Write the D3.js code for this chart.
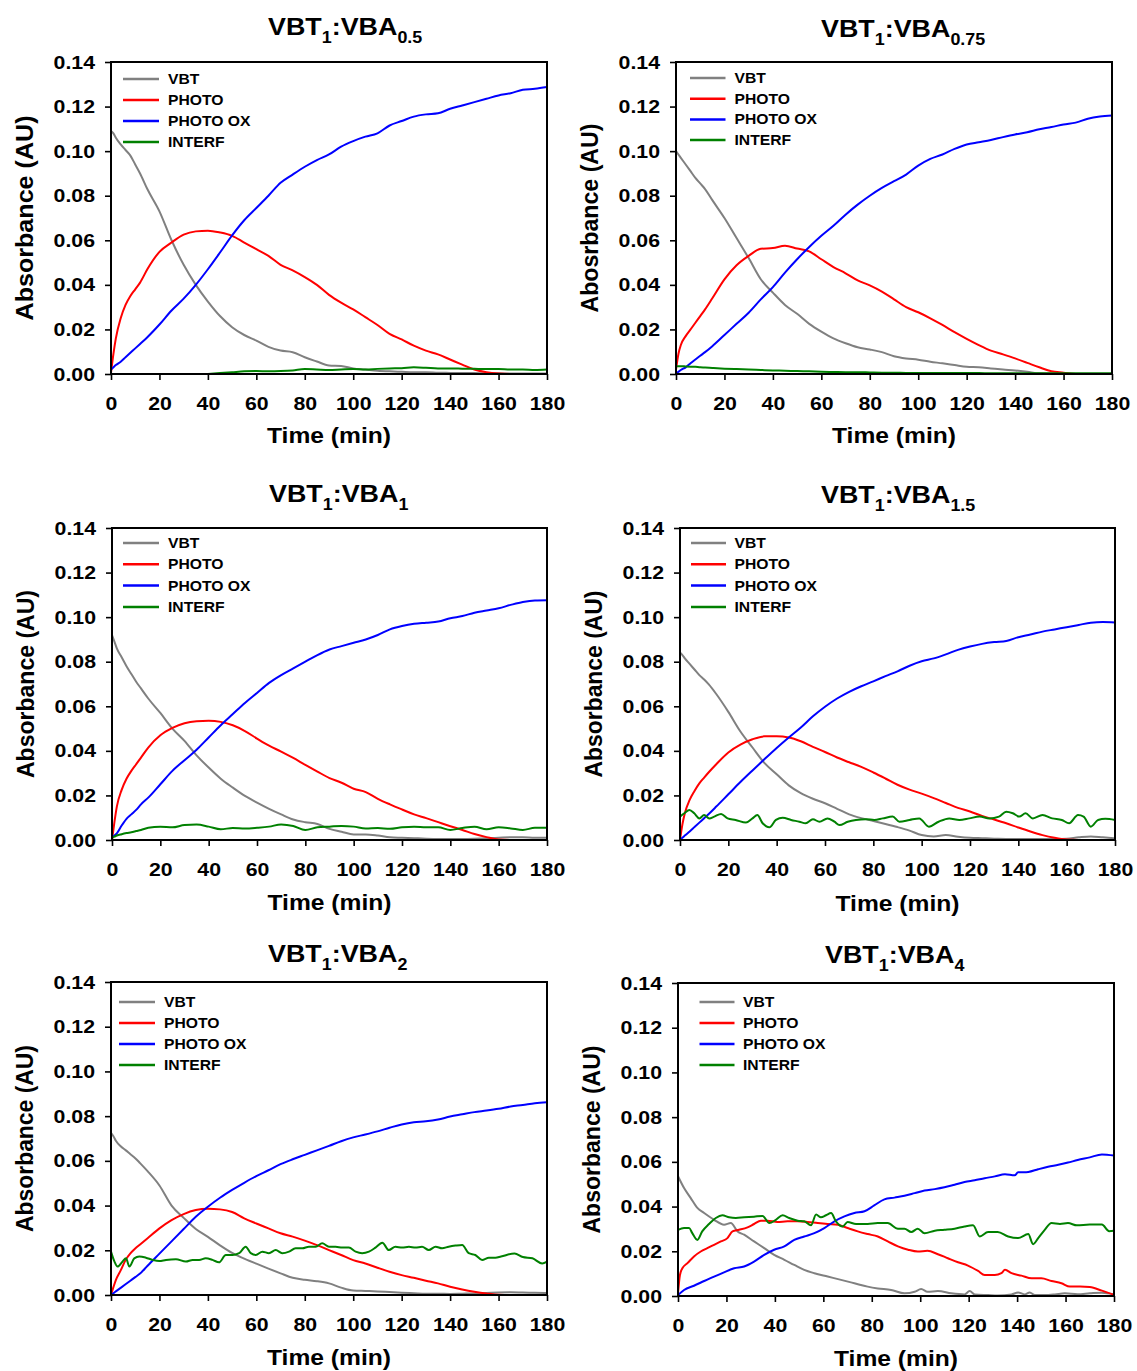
<!DOCTYPE html>
<html><head><meta charset="utf-8">
<script src="https://cdn.jsdelivr.net/npm/d3@7"></script>
<style>
body{margin:0;background:#fff}
svg{display:block}
text{font-family:"Liberation Sans",Arial,Helvetica,sans-serif;font-weight:bold;fill:#000}
</style>
</head><body>
<svg id="chart" width="1137" height="1371"></svg>
<script>
// ---------- shared axes / labels ----------
const T = [0,1,2,4,6,8,10,12,15,20,25,30,35,40,45,50,55,60,65,70,75,80,85,90,95,100,105,110,115,120,125,130,135,140,145,150,155,160,165,170,175,180];
const xTicks = [0,20,40,60,80,100,120,140,160,180];
const yTicks = [0,0.02,0.04,0.06,0.08,0.10,0.12,0.14];
const seriesNames = ["VBT","PHOTO","PHOTO OX","INTERF"];
const seriesColors = ["#808080","#ff0000","#0000ff","#008000"];
const titleSubs = ["0.5","0.75","1","1.5","2","4"];
const yLabels = ["Absorbance (AU)","Abosrbance (AU)","Absorbance (AU)","Absorbance (AU)","Absorbance (AU)","Absorbance (AU)"];
const xLabel = "Time (min)";

// ---------- panel 1 : VBT1:VBA0.5 ----------
const p1_vbt = [0.109,0.108,0.106,0.103,0.1005,0.098,0.094,0.090,0.083,0.073,0.060,0.049,0.040,0.0325,0.026,0.021,0.0175,0.015,0.0122,0.0105,0.0098,0.0075,0.0056,0.0038,0.0036,0.0025,0.002,0.0015,0.0012,0.001,0.0008,0.0008,0.0006,0.0005,0.0004,0.0004,0.0003,0.0003,0.0002,0.0002,0.0002,0.0002];
const p1_photo = [0.0005,0.009,0.016,0.025,0.031,0.035,0.038,0.041,0.047,0.0548,0.059,0.0625,0.064,0.0643,0.0635,0.062,0.059,0.056,0.053,0.049,0.0465,0.0435,0.040,0.0355,0.032,0.029,0.0255,0.022,0.018,0.0155,0.0127,0.0105,0.0088,0.0065,0.0042,0.002,0.0008,0.0002,0,0,0,0];
const p1_photoox = [0.002,0.003,0.004,0.0055,0.0075,0.0095,0.0115,0.0135,0.0165,0.0222,0.0285,0.0338,0.040,0.047,0.0545,0.0622,0.069,0.0745,0.080,0.0858,0.0895,0.093,0.096,0.0985,0.102,0.1045,0.1065,0.108,0.1115,0.1135,0.1155,0.1165,0.117,0.119,0.1205,0.122,0.1235,0.125,0.126,0.1275,0.128,0.1288];
const p1_interf_t = [40,45,50,55,60,65,70,75,80,85,90,95,100,105,110,115,120,125,130,135,140,145,150,155,160,165,170,175,180];
const p1_interf = [0,0.0004,0.0008,0.0012,0.0013,0.0012,0.0013,0.0016,0.0022,0.002,0.0018,0.002,0.0022,0.002,0.0023,0.0025,0.0026,0.003,0.0028,0.0025,0.0025,0.0024,0.0023,0.0022,0.0022,0.002,0.002,0.0018,0.002];

// ---------- panel 2 : VBT1:VBA0.75 ----------
const p2_vbt = [0.100,0.0985,0.097,0.094,0.091,0.088,0.0855,0.083,0.078,0.070,0.061,0.052,0.0425,0.0365,0.031,0.027,0.0225,0.019,0.016,0.0138,0.012,0.011,0.0098,0.008,0.007,0.0064,0.0055,0.0048,0.004,0.0032,0.003,0.0025,0.002,0.0016,0.001,0.0003,0.0002,0.0001,0,0,0,0];
const p2_photo = [0.002,0.009,0.013,0.017,0.020,0.023,0.026,0.029,0.034,0.0425,0.0488,0.053,0.0562,0.0565,0.0575,0.0563,0.055,0.0515,0.048,0.0452,0.042,0.0398,0.037,0.0335,0.030,0.0277,0.025,0.022,0.0188,0.0158,0.013,0.0105,0.0088,0.007,0.005,0.003,0.0012,0.0006,0,0,0,0];
const p2_photoox = [0.0005,0.001,0.0018,0.003,0.0048,0.0065,0.0082,0.0098,0.0125,0.0175,0.0225,0.0275,0.0335,0.039,0.0455,0.0515,0.057,0.062,0.0665,0.0715,0.076,0.080,0.0835,0.0865,0.0895,0.0935,0.0965,0.0985,0.101,0.103,0.104,0.105,0.1063,0.1075,0.1085,0.1098,0.1108,0.112,0.1128,0.1145,0.1155,0.116];
const p2_interf = [0.0035,0.0035,0.0035,0.0034,0.0033,0.0032,0.003,0.0029,0.0027,0.0024,0.0022,0.002,0.0018,0.0016,0.0015,0.0013,0.0012,0.001,0.0009,0.0008,0.0008,0.0007,0.0006,0.0006,0.0005,0.0005,0.0005,0.0004,0.0004,0.0004,0.0004,0.0003,0.0003,0.0003,0.0003,0.0003,0.0003,0.0003,0.0003,0.0003,0.0003,0.0003];

// ---------- panel 3 : VBT1:VBA1 ----------
const p3_vbt = [0.092,0.089,0.086,0.082,0.078,0.0745,0.071,0.068,0.0635,0.057,0.050,0.0445,0.038,0.0325,0.0275,0.0235,0.0198,0.0168,0.014,0.0115,0.0092,0.008,0.0072,0.005,0.0037,0.0025,0.0025,0.002,0.0012,0.001,0.0008,0.0006,0.0005,0.0005,0.0005,0.0006,0.0008,0.001,0.0012,0.0012,0.001,0.001];
const p3_photo = [0,0.008,0.015,0.0225,0.0275,0.031,0.034,0.037,0.0415,0.047,0.0503,0.0524,0.0533,0.0535,0.053,0.0515,0.0489,0.0455,0.0423,0.0397,0.0368,0.0337,0.0307,0.0278,0.0257,0.023,0.0215,0.0185,0.016,0.0137,0.0115,0.0098,0.008,0.0062,0.0045,0.0027,0.0013,0.0002,0,0,0,0];
const p3_photoox = [0.0012,0.002,0.003,0.0065,0.0095,0.0115,0.0135,0.016,0.019,0.025,0.031,0.0358,0.0405,0.046,0.0515,0.0565,0.0615,0.066,0.0705,0.074,0.077,0.080,0.083,0.0855,0.087,0.0885,0.090,0.092,0.0945,0.096,0.097,0.0975,0.098,0.0995,0.1005,0.102,0.103,0.104,0.1055,0.1068,0.1075,0.1076];
const p3_interf = [0.001,0.0015,0.002,0.0026,0.0031,0.0035,0.004,0.0045,0.0055,0.006,0.0057,0.0067,0.0069,0.006,0.0048,0.0054,0.0052,0.0055,0.006,0.007,0.0063,0.0045,0.0057,0.006,0.0063,0.006,0.0052,0.0054,0.005,0.0057,0.006,0.0057,0.0057,0.0045,0.0054,0.006,0.0048,0.0057,0.0052,0.0045,0.0055,0.0055];

// ---------- panel 4 : VBT1:VBA1.5 ----------
const p4_vbt = [0.0841,0.083,0.0815,0.079,0.0765,0.074,0.072,0.0697,0.0655,0.0575,0.0487,0.0415,0.0345,0.0295,0.0245,0.021,0.0185,0.0165,0.014,0.0115,0.0098,0.0085,0.0072,0.0058,0.0042,0.0022,0.0016,0.0022,0.0015,0.001,0.0008,0.0006,0.0005,0.0004,0.0004,0.0004,0.0004,0.0006,0.0012,0.0016,0.0012,0.0008];
const p4_photo = [0,0.007,0.012,0.018,0.022,0.0254,0.028,0.0305,0.034,0.0393,0.0428,0.0452,0.0465,0.0465,0.046,0.0443,0.0418,0.0395,0.037,0.0349,0.0328,0.0303,0.0276,0.0248,0.0226,0.0208,0.0188,0.0166,0.0144,0.0128,0.0108,0.0092,0.0075,0.0056,0.0038,0.0022,0.001,0.0002,0,0,0,0];
const p4_photoox = [0.0003,0.001,0.002,0.0038,0.0058,0.0078,0.0098,0.0118,0.015,0.0205,0.026,0.0312,0.0363,0.0413,0.046,0.0505,0.0555,0.0598,0.0635,0.0665,0.069,0.0712,0.0735,0.0757,0.0782,0.0802,0.0815,0.0833,0.0853,0.0868,0.088,0.0888,0.0893,0.091,0.0922,0.0935,0.0945,0.0955,0.0965,0.0975,0.0978,0.0976];
const p4_interf_t = [0,1.8,3.9,5.9,8,10,12.1,14.2,17,19.7,23,27.3,30,32,34.2,37,39.7,42.5,46,49.4,52,55,57.7,61,63.9,66,69.4,72.8,77,80.4,83.9,88,90.8,95,99,103,107,111.4,115.6,119.7,124,128,132,135,137.7,140.4,143,146,150,154,158,161,164.7,167,170,173,176,180];
const p4_interf = [0.0105,0.012,0.0135,0.012,0.0097,0.0112,0.0097,0.0105,0.0117,0.0097,0.009,0.0078,0.0097,0.0112,0.0075,0.0057,0.009,0.01,0.009,0.0082,0.0075,0.0093,0.0082,0.0097,0.0082,0.0067,0.0082,0.009,0.0093,0.009,0.0097,0.0105,0.0082,0.009,0.0097,0.006,0.0082,0.0097,0.009,0.0097,0.0105,0.0097,0.0105,0.0127,0.012,0.0105,0.012,0.0097,0.0112,0.0097,0.009,0.0075,0.0112,0.0105,0.006,0.009,0.0095,0.009];

// ---------- panel 5 : VBT1:VBA2 ----------
const p5_vbt = [0.0725,0.071,0.069,0.0665,0.0648,0.063,0.0612,0.059,0.0555,0.049,0.040,0.0345,0.0295,0.026,0.0222,0.0188,0.0163,0.014,0.0118,0.0097,0.0077,0.0068,0.0062,0.0052,0.0033,0.002,0.0018,0.0016,0.0013,0.001,0.0008,0.0006,0.0006,0.0005,0.0006,0.0007,0.0009,0.0011,0.0012,0.0011,0.001,0.0009];
const p5_photo = [0,0.0035,0.0067,0.011,0.0156,0.0186,0.0208,0.0226,0.0253,0.0298,0.0335,0.0362,0.038,0.0386,0.0383,0.0371,0.0343,0.032,0.0298,0.0276,0.0261,0.0243,0.0223,0.0201,0.0179,0.0156,0.0141,0.0122,0.0104,0.0089,0.0077,0.0064,0.0052,0.0037,0.0025,0.0015,0.0007,0.0001,0,0,0,0];
const p5_photoox = [0,0.0008,0.0016,0.0032,0.0048,0.0064,0.008,0.0096,0.013,0.0185,0.024,0.0295,0.035,0.0395,0.0435,0.047,0.0502,0.0532,0.0558,0.0585,0.0607,0.0627,0.0647,0.0667,0.0688,0.0705,0.0718,0.0732,0.0748,0.0763,0.0773,0.0777,0.0785,0.0798,0.0808,0.0818,0.0825,0.0833,0.0843,0.085,0.0858,0.0862];
const p5_interf_t = [0,1.4,2.7,4.8,6.2,7.6,9.6,11.7,14.4,17.2,19.9,22.7,26.8,30.9,33.7,36.4,39.1,41.9,44.6,47.4,50.1,52.9,55.6,57.7,59.8,62.5,65.2,68,70.7,73.5,76.2,79,81.7,84.5,87.2,90,92.7,95.5,98.2,101,103.7,106.5,109.2,112,114.7,117.4,120.2,123,125.7,128.4,131.2,134,136.7,139.4,142.2,145,147.7,150.4,153.2,156,158.7,161,166.6,170,174,178,180];
const p5_interf = [0.0194,0.015,0.0127,0.015,0.0164,0.0127,0.0164,0.0172,0.0167,0.0157,0.0152,0.0157,0.016,0.015,0.0157,0.0157,0.0164,0.0157,0.0146,0.0179,0.0179,0.0187,0.0216,0.0187,0.0179,0.0194,0.0187,0.0201,0.0187,0.0194,0.0209,0.0209,0.0216,0.0216,0.0231,0.0216,0.0216,0.0212,0.0212,0.0194,0.0187,0.0194,0.0212,0.0234,0.0201,0.0216,0.0212,0.0216,0.0212,0.0216,0.0201,0.0216,0.0209,0.0216,0.0221,0.0224,0.0187,0.0179,0.0157,0.0167,0.0167,0.0172,0.0186,0.017,0.0164,0.0141,0.0149];

// ---------- panel 6 : VBT1:VBA4 ----------
const p6_vbt_t = [0,2.5,5.2,8,10.8,14.9,19,21.8,24.6,27.3,31.4,35.6,39.7,43.9,48,52.1,56.3,61.8,67.3,72.8,78.3,82.5,88,93.5,97.7,100.4,103,107.3,112.8,118.3,120.4,122.5,128,132,137.7,140.4,143.2,145.2,147.3,151.4,155.6,159.7,165,170,175,180];
const p6_vbt = [0.0536,0.0483,0.0439,0.0394,0.0371,0.0341,0.0319,0.0326,0.0289,0.0274,0.0244,0.0214,0.0184,0.0162,0.0139,0.0117,0.0102,0.0087,0.0072,0.0057,0.0042,0.0034,0.0027,0.0012,0.0019,0.0031,0.0019,0.0022,0.0012,0.0007,0.0022,0.0007,0.0004,0.0002,0.0007,0.0016,0.0007,0.0016,0.0004,0.0004,0.0007,0.0012,0.0008,0.0012,0.0015,0.0008];
const p6_photo_t = [0,0.8,1.8,3.9,6.6,9.4,12.1,14.9,17.7,20.4,22.5,25.2,28.7,31.4,34.2,37,41,45.2,49.4,53.5,57.7,61.8,66,70,74.2,78.3,82.5,86.6,90.8,95,99,103,107.3,111.4,115.6,119.7,123.9,126.6,130.8,133.5,135,137.7,141.8,146,150,154.2,158.3,161.8,166,170,175,180];
const p6_photo = [0.0012,0.0094,0.0124,0.0147,0.0177,0.0199,0.0214,0.0229,0.0244,0.0259,0.0289,0.0296,0.0307,0.0322,0.0337,0.0337,0.0331,0.0334,0.0334,0.0331,0.0326,0.0322,0.0319,0.0304,0.0289,0.0277,0.0266,0.0244,0.0222,0.0207,0.0199,0.0202,0.0187,0.0169,0.0151,0.0136,0.0112,0.0094,0.0094,0.0102,0.0117,0.0102,0.0091,0.0079,0.0079,0.0067,0.0057,0.0042,0.0042,0.004,0.0024,0.0005];
const p6_photoox_t = [0,2.5,6.6,10.8,14.9,19,23.2,27.3,31.4,35.6,39.7,43.9,48,52.1,56.3,60.4,64.6,68.7,72.8,77,81,85.2,89.4,93.5,97.7,101.8,106,110,114.2,118.3,122.5,126.6,130.8,135,139,140.4,144.6,148.7,152.8,157,161,165,170,175,180];
const p6_photoox = [0.0004,0.0027,0.0046,0.0067,0.0087,0.0106,0.0124,0.0132,0.0154,0.0184,0.0207,0.0222,0.0251,0.0266,0.0281,0.0304,0.0334,0.0356,0.0371,0.0379,0.0405,0.0432,0.044,0.0448,0.046,0.0472,0.0478,0.0486,0.0498,0.051,0.0518,0.0527,0.0535,0.0545,0.054,0.0553,0.0555,0.0567,0.0578,0.0587,0.0597,0.0608,0.062,0.0633,0.0628];
const p6_interf_t = [0,2.5,4.6,5.9,8,10,12.8,15.6,18.3,21.1,23.9,27.3,31.4,34.9,37.7,40.4,43.2,45.9,49.4,52.1,54.9,57,59,61.1,63.2,65.2,68,70,73.5,78.3,82.5,86.6,90.8,93.5,96.3,99,101.8,106,110,114.2,118.3,121.8,124.6,128,132,136.3,140.4,144.6,146.6,148.7,151.4,154.2,157.7,161,164.7,170,175,178,180];
const p6_interf = [0.0296,0.0304,0.0304,0.0281,0.0251,0.0289,0.0322,0.0349,0.0361,0.0352,0.0349,0.0352,0.0355,0.0358,0.0326,0.0341,0.0361,0.0349,0.0337,0.0334,0.0316,0.0364,0.0352,0.0361,0.0371,0.0334,0.0311,0.0331,0.0322,0.0322,0.0326,0.0326,0.0301,0.0301,0.0286,0.0301,0.0281,0.0292,0.0296,0.0301,0.0311,0.0316,0.0266,0.0286,0.0286,0.0266,0.0259,0.0277,0.0232,0.0259,0.0296,0.0326,0.0322,0.0326,0.0316,0.032,0.032,0.029,0.0292];

// ---------- table of series per panel (built from the arrays above) ----------
const panelSeries = [
  [[T,p1_vbt],[T,p1_photo],[T,p1_photoox],[p1_interf_t,p1_interf]],
  [[T,p2_vbt],[T,p2_photo],[T,p2_photoox],[T,p2_interf]],
  [[T,p3_vbt],[T,p3_photo],[T,p3_photoox],[T,p3_interf]],
  [[T,p4_vbt],[T,p4_photo],[T,p4_photoox],[p4_interf_t,p4_interf]],
  [[T,p5_vbt],[T,p5_photo],[T,p5_photoox],[p5_interf_t,p5_interf]],
  [[p6_vbt_t,p6_vbt],[p6_photo_t,p6_photo],[p6_photoox_t,p6_photoox],[p6_interf_t,p6_interf]]
];

// ---------- layout (positions & styles) ----------
const layout = [
  {left:111,right:547,top:62,bottom:374,titleX:268,titleY:35,legDx:12,legW:36,legTx:57,legDy:17,legStep:21,yLab:205,xLabDy:69},
  {left:676,right:1112,top:62,bottom:374,titleX:821,titleY:37,legDx:14,legW:35.5,legTx:58.5,legDy:16,legStep:20.7,yLab:189,xLabDy:69},
  {left:112,right:547,top:528,bottom:840,titleX:269,titleY:502,legDx:11,legW:36,legTx:56,legDy:15,legStep:21.3,yLab:188,xLabDy:70},
  {left:680,right:1115,top:528,bottom:840,titleX:821,titleY:503,legDx:11,legW:35,legTx:54.5,legDy:15,legStep:21.3,yLab:187,xLabDy:71},
  {left:111,right:547,top:982,bottom:1295,titleX:268,titleY:962,legDx:8,legW:36,legTx:53,legDy:20,legStep:21,yLab:187,xLabDy:70},
  {left:678,right:1114,top:983,bottom:1296,titleX:825,titleY:963,legDx:21.5,legW:35,legTx:65,legDy:19,legStep:21,yLab:188,xLabDy:70}
];
const SX = 1.12; // horizontal stretch of the original figure's lettering

const svg = d3.select("#chart");

panelSeries.forEach((series, i) => {
  const L = layout[i];
  const x = d3.scaleLinear().domain([0,180]).range([L.left, L.right]);
  const y = d3.scaleLinear().domain([0,0.14]).range([L.bottom, L.top]);
  const g = svg.append("g");

  // data lines
  const line = d3.line().x(d => x(d[0])).y(d => y(d[1])).curve(d3.curveMonotoneX);
  series.forEach((s, k) => {
    const pts = s[0].map((t, j) => [t, s[1][j]]);
    g.append("path").datum(pts)
      .attr("d", line)
      .attr("fill", "none")
      .attr("stroke", seriesColors[k])
      .attr("stroke-width", 2)
      .attr("stroke-linejoin", "round");
  });

  // frame
  g.append("rect")
    .attr("x", L.left).attr("y", L.top)
    .attr("width", L.right - L.left).attr("height", L.bottom - L.top)
    .attr("fill", "none").attr("stroke", "#000").attr("stroke-width", 2);

  // x axis
  const xa = g.append("g").attr("transform", `translate(0,${L.bottom})`)
    .call(d3.axisBottom(x).tickValues(xTicks).tickSize(6).tickSizeOuter(0).tickPadding(17).tickFormat(d3.format("d")));
  xa.select(".domain").remove();
  xa.selectAll(".tick line").attr("stroke", "#000").attr("stroke-width", 1.6);
  xa.selectAll(".tick text").attr("font-size", 19).attr("transform", `scale(${SX},1)`);

  // y axis
  const ya = g.append("g").attr("transform", `translate(${L.left},0)`)
    .call(d3.axisLeft(y).tickValues(yTicks).tickSize(6).tickSizeOuter(0).tickPadding(10).tickFormat(d3.format(".2f")));
  ya.select(".domain").remove();
  ya.selectAll(".tick line").attr("stroke", "#000").attr("stroke-width", 1.6);
  ya.selectAll(".tick text").attr("font-size", 19).attr("x", -16 / SX).attr("transform", `scale(${SX},1)`);

  // title with subscripts
  const tt = g.append("text")
    .attr("transform", `translate(${L.titleX},${L.titleY}) scale(${SX},1)`)
    .attr("text-anchor", "start");
  tt.append("tspan").attr("font-size", 24).text("VBT");
  tt.append("tspan").attr("font-size", 16).attr("dy", 8).text("1");
  tt.append("tspan").attr("font-size", 24).attr("dy", -8).text(":VBA");
  tt.append("tspan").attr("font-size", 16).attr("dy", 8).text(titleSubs[i]);

  // x label
  g.append("text")
    .attr("transform", `translate(${(L.left + L.right) / 2},${L.bottom + L.xLabDy}) scale(${SX},1)`)
    .attr("text-anchor", "middle").attr("font-size", 22).text(xLabel);

  // y label
  g.append("text")
    .attr("transform", `translate(${L.left - 78},${(L.top + L.bottom) / 2}) scale(${SX},1) rotate(-90)`)
    .attr("text-anchor", "middle").attr("font-size", 22)
    .attr("textLength", L.yLab).attr("lengthAdjust", "spacingAndGlyphs")
    .text(yLabels[i]);

  // legend
  seriesNames.forEach((name, k) => {
    const ly = L.top + L.legDy + k * L.legStep;
    g.append("line")
      .attr("x1", L.left + L.legDx).attr("x2", L.left + L.legDx + L.legW)
      .attr("y1", ly).attr("y2", ly)
      .attr("stroke", seriesColors[k]).attr("stroke-width", 2.5);
    g.append("text")
      .attr("transform", `translate(${L.left + L.legTx},${ly}) scale(${SX},1)`)
      .attr("dy", "0.36em").attr("font-size", 14).text(name);
  });
});
</script>
</body></html>
